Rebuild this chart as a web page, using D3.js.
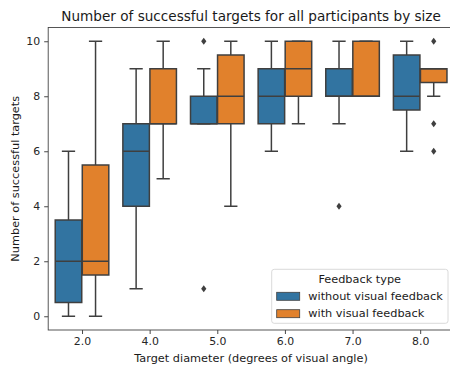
<!DOCTYPE html>
<html><head><meta charset="utf-8">
<script src="https://cdn.jsdelivr.net/npm/d3@7"></script>
<style>body{margin:0;background:#fff}svg{display:block;font-family:"DejaVu Sans",sans-serif}</style>
</head><body>
<script>
const categories = ["2.0","4.0","5.0","6.0","7.0","8.0"];
const seriesNames = ["without visual feedback","with visual feedback"];
const yTicks = [0,2,4,6,8,10];
// without visual feedback
const noFbLow = [0,1,7,6,7,6];
const noFbQ1 = [0.5,4,7,7,8,7.5];
const noFbMed = [2,6,7,8,8,8];
const noFbQ3 = [3.5,7,8,9,9,9.5];
const noFbHigh = [6,9,9,10,10,10];
const noFbOut = [[],[],[10,1],[],[4],[]];
// with visual feedback
const fbLow = [0,5,4,7,8,8];
const fbQ1 = [1.5,7,7,8,8,8.5];
const fbMed = [2,7,8,9,8,9];
const fbQ3 = [5.5,9,9.5,10,10,9];
const fbHigh = [10,10,10,10,10,9];
const fbOut = [[],[],[],[],[],[10,7,6]];

const colors = ["#3274a1","#e1812c"];
const edge = "#3f3f3f";
const W=450,H=368;
const m={l:48.2,r:454,t:27.5,b:330};
const svg=d3.select("body").append("svg").attr("width",W).attr("height",H);
const x=d3.scaleLinear().domain([-0.5,categories.length-0.5]).range([m.l,m.r]);
const y=d3.scaleLinear().domain([-0.5,10.5]).range([m.b,m.t]);

const series=[
 {low:noFbLow,q1:noFbQ1,med:noFbMed,q3:noFbQ3,high:noFbHigh,out:noFbOut,off:-0.2},
 {low:fbLow,q1:fbQ1,med:fbMed,q3:fbQ3,high:fbHigh,out:fbOut,off:0.2}
];
const bw=(x(0.4)-x(0))*0.98;
const cw=bw/2;
series.forEach((s,si)=>{
  categories.forEach((c,i)=>{
    const cx=x(i+s.off);
    const g=svg.append("g");
    g.append("line").attr("x1",cx).attr("x2",cx).attr("y1",y(s.low[i])).attr("y2",y(s.q1[i])).attr("stroke",edge).attr("stroke-width",1.5);
    g.append("line").attr("x1",cx).attr("x2",cx).attr("y1",y(s.q3[i])).attr("y2",y(s.high[i])).attr("stroke",edge).attr("stroke-width",1.5);
    g.append("line").attr("x1",cx-cw/2).attr("x2",cx+cw/2).attr("y1",y(s.low[i])).attr("y2",y(s.low[i])).attr("stroke",edge).attr("stroke-width",1.5);
    g.append("line").attr("x1",cx-cw/2).attr("x2",cx+cw/2).attr("y1",y(s.high[i])).attr("y2",y(s.high[i])).attr("stroke",edge).attr("stroke-width",1.5);
    g.append("rect").attr("x",cx-bw/2).attr("width",bw).attr("y",y(s.q3[i])).attr("height",y(s.q1[i])-y(s.q3[i]))
      .attr("fill",colors[si]).attr("stroke",edge).attr("stroke-width",1.5);
    g.append("line").attr("x1",cx-bw/2).attr("x2",cx+bw/2).attr("y1",y(s.med[i])).attr("y2",y(s.med[i])).attr("stroke",edge).attr("stroke-width",1.5);
    s.out[i].forEach(v=>{
      g.append("path").attr("d",`M${cx},${y(v)-3.5}L${cx+2.6},${y(v)}L${cx},${y(v)+3.5}L${cx-2.6},${y(v)}Z`).attr("fill",edge);
    });
  });
});

const xa=svg.append("g").attr("transform",`translate(0,${m.b})`)
  .call(d3.axisBottom(x).tickValues(d3.range(categories.length)).tickFormat(i=>categories[i]).tickSize(4).tickPadding(3.5));
const ya=svg.append("g").attr("transform",`translate(${m.l},0)`)
  .call(d3.axisLeft(y).tickValues(yTicks).tickFormat(d3.format("d")).tickSize(4).tickPadding(4));
[xa,ya].forEach(a=>{a.select(".domain").remove();a.selectAll("text").attr("font-size",10.9).attr("fill","#262626").attr("font-family","DejaVu Sans");a.selectAll("line").attr("stroke","#333").attr("stroke-width",0.9);});
svg.append("rect").attr("x",m.l).attr("y",m.t).attr("width",m.r-m.l).attr("height",m.b-m.t).attr("fill","none").attr("stroke","#444").attr("stroke-width",0.9);

svg.append("text").attr("x",(m.l+m.r)/2).attr("y",20.5).attr("text-anchor","middle").attr("font-size",13.6).attr("fill","#1a1a1a").text("Number of successful targets for all participants by size");
svg.append("text").attr("x",(m.l+m.r)/2).attr("y",361.5).attr("text-anchor","middle").attr("font-size",11.3).attr("fill","#1a1a1a").text("Target diameter (degrees of visual angle)");
svg.append("text").attr("transform",`translate(18.5,${(m.t+m.b)/2}) rotate(-90)`).attr("text-anchor","middle").attr("font-size",11.3).attr("fill","#1a1a1a").text("Number of successful targets");

const lg=svg.append("g").attr("transform","translate(271.7,269.3)");
lg.append("rect").attr("width",176.3).attr("height",54).attr("rx",2.5).attr("fill","#fff").attr("fill-opacity",0.85).attr("stroke","#d0d0d0").attr("stroke-width",0.8);
lg.append("text").attr("x",88).attr("y",14).attr("text-anchor","middle").attr("font-size",11.3).attr("fill","#1a1a1a").text("Feedback type");
seriesNames.forEach((n,i)=>{
  lg.append("rect").attr("x",5).attr("y",23+i*17.4).attr("width",23).attr("height",8).attr("fill",colors[i]).attr("stroke",edge).attr("stroke-width",0.8);
  lg.append("text").attr("x",36.6).attr("y",30.8+i*17.4).attr("font-size",11.3).attr("fill","#1a1a1a").text(n);
});
</script>
</body></html>
